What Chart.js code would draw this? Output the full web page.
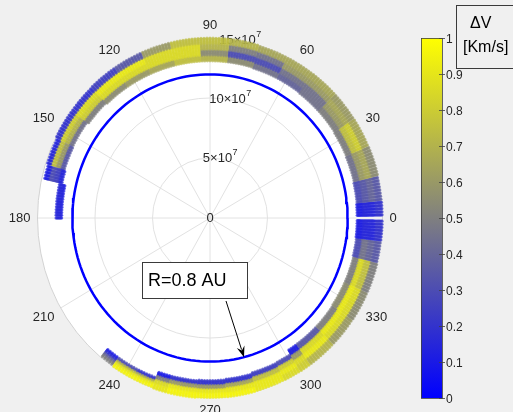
<!DOCTYPE html>
<html>
<head>
<meta charset="utf-8">
<script src="https://cdn.jsdelivr.net/npm/chart.js@4.4.1/dist/chart.umd.min.js"></script>
<style>
  html, body { margin: 0; padding: 0; background: #f0f0f0; }
  #wrap { width: 513px; height: 412px; position: relative; }
</style>
</head>
<body>
<div id="wrap"><canvas id="polar"></canvas></div>
<script>
const AU = 1.496e8;      // km
const R_MAX = 1.5e8;     // outer limit of the polar axes, km

// axes ticks
const thetaTicks = [0, 30, 60, 90, 120, 150, 180, 210, 240, 270, 300, 330];
const rTicks = [5e7, 10e7, 15e7];
const rTickMant = ['5', '10', '15'];   // shown as  N x 10^7
const cbTicks = [0, 0.1, 0.2, 0.3, 0.4, 0.5, 0.6, 0.7, 0.8, 0.9, 1];

// departure band
// angles in deg, radii in 1e7 km, dV for four radial layers (inner -> outer)
const cellStart = [1, 6, 14, 24, 34, 44, 54, 64, 74, 84, 94, 104, 114, 124, 134, 144, 154, 163, 168,
                   230.5, 236, 244, 250.5, 256, 266, 276, 286, 296, 301.5, 306, 316, 326, 336, 346, 353];
const cellEnd   = [6, 14, 24, 34, 44, 54, 64, 74, 84, 94, 104, 114, 124, 134, 144, 154, 163, 168, 180.5,
                   236, 244, 250.5, 256, 266, 276, 286, 296, 301.5, 306, 316, 326, 336, 346, 353, 359.5];
const cellInner = [12.8, 12.85, 12.9, 12.95, 13.0, 13.0, 13.05, 13.05, 13.1, 13.1, 13.1, 13.1, 13.1, 13.1, 13.2, 13.35, 13.3, 13.2, 12.9,
                   14.1, 14.1, 14.1, 13.6, 13.6, 13.55, 13.5, 13.4, 13.35, 12.95, 12.95, 12.95, 12.9, 12.9, 12.85, 12.8];
const cellOuter = [15.0, 15.0, 15.0, 15.0, 15.0, 15.0, 15.0, 15.0, 15.0, 15.0, 15.0, 15.0, 15.0, 15.0, 15.0, 15.0, 14.9, 14.8, 13.4,
                   14.9, 15.0, 15.0, 15.0, 15.0, 15.0, 15.0, 15.0, 15.0, 15.0, 15.0, 15.0, 15.0, 15.0, 15.0, 15.0];
const dvL1 = [0.12, 0.3, 0.45, 0.5, 0.5, 0.45, 0.4, 0.45, 0.55, 0.7, 0.75, 0.65, 0.6, 0.55, 0.5, 0.45, 0.35, 0.15, 0.12,
              0.1, 0.3, 0.2, 0.1, 0.2, 0.2, 0.2, 0.25, 0.3, 0.12, 0.35, 0.5, 0.55, 0.5, 0.3, 0.12];
const dvL2 = [0.15, 0.35, 0.6, 0.75, 0.6, 0.45, 0.45, 0.3, 0.3, 0.55, 0.85, 0.85, 0.85, 0.85, 0.8, 0.7, 0.6, 0.25, 0.15,
              0.2, 0.75, 0.7, 0.5, 0.6, 0.6, 0.65, 0.75, 0.8, 0.6, 0.85, 0.9, 0.9, 0.85, 0.45, 0.15];
const dvL3 = [0.15, 0.4, 0.65, 0.8, 0.65, 0.6, 0.6, 0.45, 0.5, 0.7, 0.85, 0.85, 0.9, 0.9, 0.85, 0.8, 0.75, 0.3, 0.15,
              0.4, 0.9, 0.9, 0.85, 0.9, 0.9, 0.9, 0.9, 0.9, 0.85, 0.9, 0.85, 0.85, 0.75, 0.4, 0.15];
const dvL4 = [0.2, 0.35, 0.55, 0.65, 0.6, 0.65, 0.65, 0.65, 0.7, 0.75, 0.75, 0.6, 0.35, 0.25, 0.2, 0.2, 0.15, 0.12, 0.15,
              0.5, 0.95, 0.95, 0.9, 0.95, 0.95, 0.95, 0.9, 0.85, 0.8, 0.7, 0.6, 0.55, 0.5, 0.35, 0.2];

// target orbit and its note
const orbitR = 0.8 * AU;
const orbitLabel = 'R=0.8 AU';
const arrowAngle = 284.3;          // deg, where the arrow hits the orbit

const FONT = '"Liberation Sans", Arial, Helvetica, sans-serif';
const TXT = '#262626';
const rad = d => d * Math.PI / 180;

function dvColor(v, a) {
  const c = Math.round(255 * v), b = Math.round(255 * (1 - v));
  return 'rgba(' + c + ',' + c + ',' + b + ',' + a + ')';
}

// build the scatter of the band (one column of markers per degree)
const bandPts = [], bandCols = [];
for (let a = 0; a < 360; a++) {
  for (let i = 0; i < cellStart.length; i++) {
    if (a < cellStart[i] || a >= cellEnd[i]) continue;
    const r0 = cellInner[i] * 1e7, r1 = cellOuter[i] * 1e7;
    const dv = [dvL1[i], dvL2[i], dvL3[i], dvL4[i]];
    for (let r = r0; r <= r1 + 1; r += 0.07e7) {
      const k = Math.min(3, Math.floor((r - r0) / (r1 - r0) * 4));
      bandPts.push({ x: r * Math.cos(rad(a)), y: r * Math.sin(rad(a)) });
      bandCols.push(dvColor(dv[k], 0.65));
    }
  }
}

// orbit line
const orbitPts = [];
for (let a = 0; a <= 360; a += 2) {
  orbitPts.push({ x: orbitR * Math.cos(rad(a)), y: orbitR * Math.sin(rad(a)) });
}

function frameGeom(chart) {
  const { x, y } = chart.scales;
  const cx = x.getPixelForValue(0), cy = y.getPixelForValue(0);
  const kx = (x.getPixelForValue(R_MAX) - cx) / R_MAX;
  const ky = (cy - y.getPixelForValue(R_MAX)) / R_MAX;
  return { cx, cy, kx, ky };
}

function drawPow(ctx, mant, px, py) {
  ctx.font = '13px ' + FONT;
  const base = mant + '\u00d710';
  const w1 = ctx.measureText(base).width;
  ctx.font = '9px ' + FONT;
  const w2 = ctx.measureText('7').width;
  const x0 = px - (w1 + w2) / 2;
  ctx.textAlign = 'left';
  ctx.textBaseline = 'middle';
  ctx.font = '13px ' + FONT;
  ctx.fillText(base, x0, py);
  ctx.font = '9px ' + FONT;
  ctx.fillText('7', x0 + w1 + 0.5, py - 6);
}

const polarFrame = {
  id: 'polarFrame',
  beforeDatasetsDraw(chart) {
    const ctx = chart.ctx;
    const { cx, cy, kx, ky } = frameGeom(chart);
    ctx.save();
    ctx.fillStyle = '#ffffff';
    ctx.beginPath();
    ctx.ellipse(cx, cy, R_MAX * kx, R_MAX * ky, 0, 0, 2 * Math.PI);
    ctx.fill();

    ctx.lineWidth = 1;
    ctx.strokeStyle = '#e2e2e2';
    thetaTicks.forEach(t => {
      ctx.beginPath();
      ctx.moveTo(cx, cy);
      ctx.lineTo(cx + R_MAX * kx * Math.cos(rad(t)), cy - R_MAX * ky * Math.sin(rad(t)));
      ctx.stroke();
    });
    rTicks.forEach((r, i) => {
      ctx.strokeStyle = i === rTicks.length - 1 ? '#d2d2d2' : '#e2e2e2';
      ctx.beginPath();
      ctx.ellipse(cx, cy, r * kx, r * ky, 0, 0, 2 * Math.PI);
      ctx.stroke();
    });

    // angle labels
    ctx.fillStyle = TXT;
    ctx.font = '13px ' + FONT;
    thetaTicks.forEach(t => {
      const c = Math.cos(rad(t)), s = Math.sin(rad(t));
      const px = cx + (R_MAX * kx + 7) * c, py = cy - (R_MAX * ky + 6) * s;
      ctx.textAlign = c > 0.1 ? 'left' : c < -0.1 ? 'right' : 'center';
      ctx.textBaseline = s > 0.1 ? 'bottom' : s < -0.1 ? 'top' : 'middle';
      ctx.fillText(String(t), px, py);
    });

    // radius labels along 80 deg
    ctx.textAlign = 'center';
    ctx.textBaseline = 'middle';
    ctx.fillText('0', cx, cy);
    rTicks.forEach((r, i) => {
      drawPow(ctx, rTickMant[i], cx + r * kx * Math.cos(rad(80)), cy - r * ky * Math.sin(rad(80)));
    });
    ctx.restore();
  },
  afterDraw(chart) {
    const ctx = chart.ctx;
    const { cx, cy, kx, ky } = frameGeom(chart);
    ctx.save();

    // note box and arrow
    ctx.fillStyle = '#ffffff';
    ctx.fillRect(142.5, 262.5, 105, 36);
    ctx.strokeStyle = '#3a3a3a';
    ctx.lineWidth = 1;
    ctx.strokeRect(142.5, 262.5, 105, 36);
    ctx.fillStyle = '#000';
    ctx.font = '18px ' + FONT;
    ctx.textAlign = 'left';
    ctx.textBaseline = 'middle';
    ctx.fillText(orbitLabel, 148, 281);

    const hx = cx + orbitR * kx * Math.cos(rad(arrowAngle));
    const hy = cy - orbitR * ky * Math.sin(rad(arrowAngle));
    const tx = 226, ty = 301;
    const ang = Math.atan2(hy - ty, hx - tx);
    ctx.strokeStyle = '#000';
    ctx.beginPath();
    ctx.moveTo(tx, ty);
    ctx.lineTo(hx - 8 * Math.cos(ang), hy - 8 * Math.sin(ang));
    ctx.stroke();
    ctx.beginPath();
    ctx.moveTo(hx, hy);
    ctx.lineTo(hx - 11 * Math.cos(ang) + 4 * Math.sin(ang), hy - 11 * Math.sin(ang) - 4 * Math.cos(ang));
    ctx.lineTo(hx - 7 * Math.cos(ang), hy - 7 * Math.sin(ang));
    ctx.lineTo(hx - 11 * Math.cos(ang) - 4 * Math.sin(ang), hy - 11 * Math.sin(ang) + 4 * Math.cos(ang));
    ctx.closePath();
    ctx.fillStyle = '#000';
    ctx.fill();

    // colorbar
    const bx = 421, bw = 21, bTop = 38, bBot = 398;
    const g = ctx.createLinearGradient(0, bBot, 0, bTop);
    g.addColorStop(0, dvColor(0, 1));
    g.addColorStop(1, dvColor(1, 1));
    ctx.fillStyle = g;
    ctx.fillRect(bx, bTop, bw, bBot - bTop);
    ctx.strokeStyle = '#404040';
    ctx.lineWidth = 0.8;
    ctx.strokeRect(bx + 0.5, bTop + 0.5, bw, bBot - bTop);
    ctx.font = '12px ' + FONT;
    ctx.fillStyle = TXT;
    ctx.textAlign = 'left';
    ctx.textBaseline = 'middle';
    cbTicks.forEach(v => {
      const py = bBot - v * (bBot - bTop) + 0.5;
      ctx.beginPath();
      ctx.moveTo(bx + bw - 3, py);
      ctx.lineTo(bx + bw + 3, py);
      ctx.stroke();
      ctx.fillText(String(v), 446, py + 1);
    });

    // colorbar title box
    ctx.strokeStyle = '#3a3a3a';
    ctx.lineWidth = 1;
    ctx.strokeRect(456.5, 5.5, 70, 63);
    ctx.fillStyle = '#000';
    ctx.font = '16px ' + FONT;
    ctx.fillText('\u0394V', 470, 24);
    ctx.fillText('[Km/s]', 463, 48);
    ctx.restore();
  }
};

new Chart(document.getElementById('polar'), {
  type: 'scatter',
  data: {
    datasets: [{
      label: 'orbit',
      data: orbitPts,
      showLine: true,
      borderColor: '#0000ff',
      borderWidth: 2.5,
      pointRadius: 0,
      clip: false
    }, {
      label: 'dV',
      data: bandPts,
      backgroundColor: bandCols,
      borderWidth: 0,
      pointRadius: 1.6,
      clip: false
    }]
  },
  options: {
    responsive: true,
    maintainAspectRatio: false,
    devicePixelRatio: 1,
    animation: false,
    events: [],
    layout: { padding: { left: 37.5, right: 130.5, top: 38, bottom: 14 } },
    scales: {
      x: { type: 'linear', min: -R_MAX, max: R_MAX, display: false },
      y: { type: 'linear', min: -R_MAX, max: R_MAX, display: false }
    },
    plugins: { legend: { display: false }, tooltip: { enabled: false } }
  },
  plugins: [polarFrame]
});
</script>
</body>
</html>
